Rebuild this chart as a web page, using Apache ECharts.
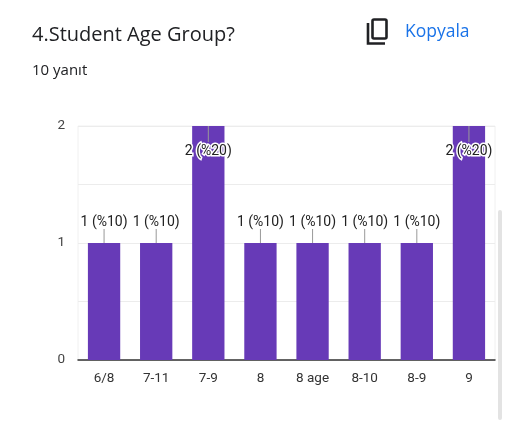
<!DOCTYPE html>
<html>
<head>
<meta charset="utf-8">
<script src="https://cdn.jsdelivr.net/npm/echarts@6/dist/echarts.min.js"></script>
<style>
html, body { margin: 0; padding: 0; background: #fff; }
#main { width: 512px; height: 440px; }
</style>
</head>
<body>
<div id="main"></div>
<script>
var categories = ['6/8', '7-11', '7-9', '8', '8 age', '8-10', '8-9', '9'];
var counts = [1, 1, 2, 1, 1, 1, 1, 2];
var percents = [10, 10, 20, 10, 10, 10, 10, 20];
var yTicks = [0, 1, 2];
var yMax = 2;

var myChart = echarts.init(document.getElementById('main'));

// label data: [index, value]
var labelData = [];
for (var i = 0; i < counts.length; i++) {
    labelData.push([i, counts[i]]);
}

var option = {
    animation: false,
    textStyle: { fontFamily: 'Roboto' },
    title: [
        {
            text: '4.Student Age Group?',
            left: 32, top: 25, padding: 0,
            textStyle: { fontSize: 20, fontWeight: 'normal', color: '#202124', fontFamily: 'Open Sans' }
        },
        {
            text: '10 yanıt',
            left: 32, top: 63, padding: 0,
            textStyle: { fontSize: 15, fontWeight: 'normal', color: '#202124', fontFamily: 'Open Sans' }
        },
        {
            text: 'Kopyala',
            left: 405, top: 23, padding: 0,
            textStyle: { fontSize: 17.5, fontWeight: 500, color: '#1a73e8', fontFamily: 'Open Sans' }
        }
    ],
    graphic: [
        // copy icon
        {
            type: 'rect', shape: { x: 372.5, y: 19.5, width: 14, height: 19, r: 1.5 },
            style: { fill: 'none', stroke: '#202124', lineWidth: 2.6 }
        },
        {
            type: 'polyline', shape: { points: [[368, 23], [368, 43.5], [385, 43.5]] },
            style: { fill: 'none', stroke: '#202124', lineWidth: 2.6 }
        },
        // scrollbar
        {
            type: 'rect', shape: { x: 498, y: 210, width: 4, height: 210, r: 2 },
            style: { fill: '#e3e3e3' }
        }
    ],
    grid: {
        left: 78, right: 17, top: 126, bottom: 80,
        show: true, borderColor: '#f0f0f0', borderWidth: 1
    },
    xAxis: {
        type: 'category',
        data: categories,
        axisTick: { show: false },
        axisLine: { lineStyle: { color: '#333', width: 1.5 } },
        axisLabel: { color: '#333', fontSize: 13.5, margin: 12, interval: 0 }
    },
    yAxis: {
        type: 'value',
        min: 0, max: yMax, interval: 0.5,
        axisLine: { show: false },
        axisTick: { show: false },
        splitLine: { lineStyle: { color: '#ececec' } },
        axisLabel: {
            color: '#444', fontSize: 13.5, margin: 13,
            formatter: function (v) {
                return yTicks.indexOf(v) >= 0 ? String(v) : '';
            }
        }
    },
    series: [
        {
            type: 'bar',
            data: counts,
            barCategoryGap: '38%',
            itemStyle: { color: '#673ab7' }
        },
        {
            type: 'custom',
            data: labelData,
            z: 10,
            renderItem: function (params, api) {
                var idx = api.value(0);
                var v = api.value(1);
                var p = api.coord([idx, v]);
                var txt = v + ' (%' + percents[idx] + ')';
                if (v >= yMax) {
                    return {
                        type: 'group',
                        children: [
                            { type: 'line', shape: { x1: p[0], y1: p[1], x2: p[0], y2: p[1] + 16 },
                              style: { stroke: '#999', lineWidth: 1 } },
                            { type: 'text', x: p[0], y: p[1] + 25,
                              style: { text: txt, fill: '#222', fontSize: 14, fontFamily: 'Roboto',
                                       align: 'center', verticalAlign: 'middle',
                                       stroke: '#fff', lineWidth: 3 } }
                        ]
                    };
                }
                return {
                    type: 'group',
                    children: [
                        { type: 'line', shape: { x1: p[0], y1: p[1], x2: p[0], y2: p[1] - 14 },
                          style: { stroke: '#999', lineWidth: 1 } },
                        { type: 'text', x: p[0], y: p[1] - 21,
                          style: { text: txt, fill: '#222', fontSize: 14, fontFamily: 'Roboto',
                                   align: 'center', verticalAlign: 'middle' } }
                    ]
                };
            }
        }
    ]
};
myChart.setOption(option);
</script>
</body>
</html>
